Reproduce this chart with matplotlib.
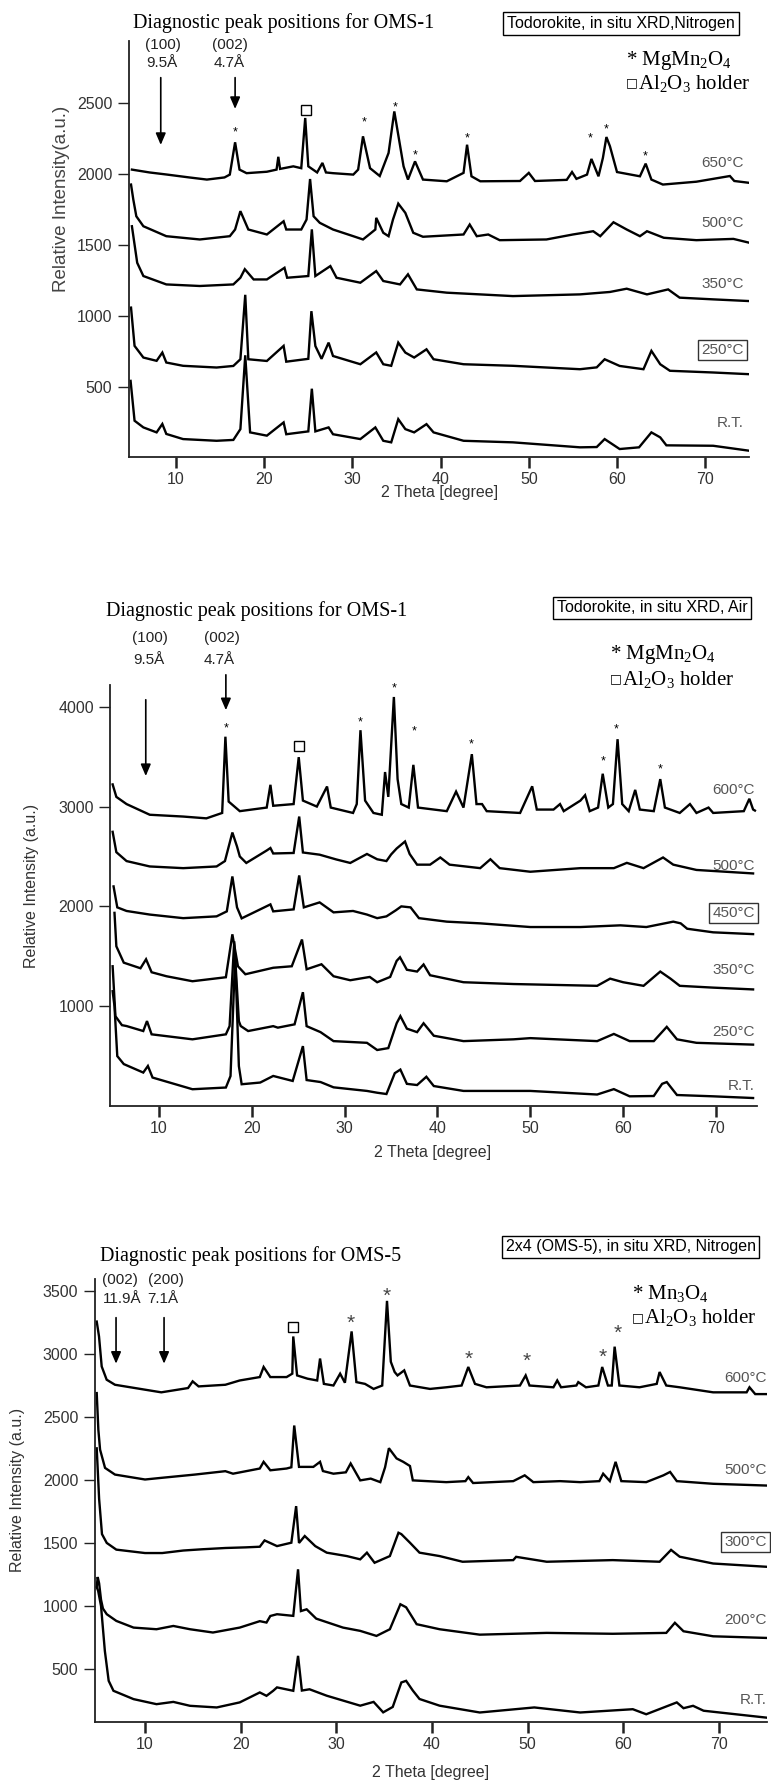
import numpy as np
import matplotlib
matplotlib.use("Agg")
import matplotlib.pyplot as plt

W, H = 771, 1782

# ---------------- OMS-1 (todorokite) in nitrogen : (2theta, intensity) ----------------
oms1_n2_650 = [(5.0, 2030), (7, 2010), (9, 1995), (11.5, 1975), (13.5, 1960), (15.5, 1975), (16.1, 1995),
               (16.7, 2222), (17.2, 2030), (18.0, 2005), (20.3, 2015), (21.4, 2030), (21.6, 2120), (21.8, 2035),
               (23.3, 2053), (24.2, 2040), (24.65, 2393), (25.0, 2053), (26.0, 2010), (26.6, 2077), (27.0, 2010),
               (27.8, 2005), (30.1, 1995), (30.65, 2030), (31.2, 2264), (32.0, 2040), (33.1, 1985), (34.1, 2147),
               (34.75, 2439), (35.8, 2053), (36.3, 1960), (37.1, 2088), (38.0, 1960), (40.7, 1948), (42.6, 2007),
               (43.0, 2205), (43.5, 1983), (44.5, 1948), (49.0, 1950), (50.0, 2007), (50.7, 1950), (54.3, 1958),
               (54.9, 2013), (55.4, 1965), (56.6, 1995), (57.1, 2105), (57.9, 1983), (58.4, 2112), (58.8, 2259),
               (59.2, 2194), (60.0, 2013), (62.6, 1983), (63.25, 2072), (63.9, 1960), (65.2, 1925), (69, 1945),
               (72.8, 1985), (73.3, 1950), (75.0, 1937)]
oms1_n2_500 = [(4.9, 1925), (5.16, 1819), (5.5, 1702), (6.3, 1632), (8.9, 1562), (12.7, 1539), (16.1, 1562),
               (16.7, 1609), (17.3, 1738), (18.2, 1609), (20.3, 1574), (22.2, 1667), (22.5, 1609), (24.2, 1609),
               (24.8, 1679), (25.2, 1964), (25.6, 1702), (26.3, 1656), (27.8, 1609), (30.1, 1562), (31.2, 1539),
               (32.6, 1609), (32.7, 1691), (33.5, 1586), (34.1, 1562), (34.6, 1679), (35.2, 1791), (36.0, 1726),
               (36.9, 1586), (38.0, 1558), (42.6, 1574), (43.3, 1644), (44.1, 1562), (45.4, 1574), (46.7, 1534),
               (52.0, 1539), (55.0, 1574), (57.3, 1597), (58.1, 1562), (59.6, 1660), (61.1, 1609), (62.6, 1562),
               (63.4, 1597), (65.3, 1551), (69.0, 1534), (73.2, 1543), (75.0, 1516)]
oms1_n2_350 = [(5.0, 1632), (5.6, 1375), (6.3, 1282), (8.9, 1223), (12.7, 1212), (16.5, 1223), (17.3, 1270),
               (17.8, 1330), (18.8, 1258), (20.3, 1258), (22.3, 1340), (22.6, 1270), (25.0, 1282), (25.4, 1610),
               (25.8, 1282), (27.5, 1352), (28.2, 1270), (30.9, 1235), (32.7, 1317), (33.5, 1247), (35.4, 1223),
               (36.3, 1294), (37.3, 1188), (40.7, 1165), (48.2, 1141), (55.8, 1153), (59.2, 1170), (61.1, 1193),
               (63.4, 1153), (65.8, 1188), (67.1, 1130), (70.9, 1118), (75.0, 1106)]
oms1_n2_250 = [(4.9, 1060), (5.3, 791), (6.3, 709), (7.8, 686), (8.45, 744), (8.9, 674), (10.8, 651),
               (14.6, 639), (16.5, 650), (17.3, 697), (17.85, 1150), (18.2, 697), (20.3, 685), (22.2, 791),
               (22.5, 680), (25.0, 700), (25.35, 1035), (25.8, 790), (26.5, 700), (27.3, 814), (27.8, 720),
               (30.9, 662), (32.7, 745), (33.5, 662), (34.4, 651), (35.2, 814), (36.0, 744), (37.0, 709),
               (38.4, 767), (39.2, 697), (42.6, 662), (48.2, 651), (55.8, 627), (57.7, 640), (58.6, 697),
               (60.3, 650), (63.0, 627), (63.9, 756), (64.9, 662), (66.0, 616), (70.9, 604), (75.0, 592)]
oms1_n2_rt = [(4.85, 545), (5.3, 265), (6.3, 218), (7.8, 183), (8.45, 242), (8.9, 172), (10.8, 136),
              (14.6, 124), (16.5, 130), (17.3, 206), (17.85, 725), (18.4, 183), (20.3, 160), (22.2, 253),
              (22.5, 170), (25.0, 190), (25.4, 490), (25.8, 190), (27.3, 218), (27.8, 170), (30.9, 136),
              (32.6, 218), (33.5, 124), (34.4, 113), (35.2, 276), (36.0, 206), (37.0, 183), (38.4, 241),
              (39.2, 183), (42.6, 124), (48.2, 113), (55.8, 78), (57.7, 80), (58.6, 136), (60.3, 66),
              (62.5, 78), (63.9, 183), (64.9, 148), (65.6, 92), (70.9, 89), (75.0, 54)]
oms1_n2_labels = ["650°C", "500°C", "350°C", "250°C", "R.T."]

# ---------------- OMS-1 (todorokite) in air ----------------
oms1_air_600 = [(5.0, 3222), (5.4, 3097), (6.5, 3025), (9.0, 2918), (12.6, 2900), (15.1, 2882), (16.8, 2936),
                (17.15, 3700), (17.5, 3050), (18.7, 2954), (21.6, 2990), (22.0, 3218), (22.3, 3008), (24.5, 3025),
                (25.05, 3495), (25.5, 3060), (27.0, 3000), (28.1, 3201), (28.5, 2990), (30.9, 2936), (31.3, 3025),
                (31.7, 3765), (32.2, 3060), (33.1, 2936), (34.0, 2918), (34.35, 3346), (34.7, 3097), (35.3, 4098),
                (35.7, 3275), (36.1, 3025), (36.9, 2990), (37.4, 3418), (37.9, 2990), (41.0, 2954), (42.0, 3150),
                (42.8, 2990), (43.7, 3525), (44.2, 3025), (44.8, 3025), (45.3, 2954), (48.9, 2936), (50.2, 3203),
                (50.7, 2970), (52.5, 2970), (53.2, 3025), (53.6, 2954), (55.4, 3060), (55.9, 3114), (56.4, 2954),
                (57.3, 2990), (57.8, 3329), (58.4, 2990), (58.9, 3025), (59.4, 3675), (59.9, 3025), (60.6, 2954),
                (61.3, 3167), (61.8, 2970), (63.3, 2954), (64.0, 3275), (64.5, 2990), (66.1, 2936), (67.2, 3025),
                (67.9, 2936), (69.2, 2990), (69.7, 2936), (73.0, 2954), (73.6, 3078), (74.0, 2971), (74.2, 2960)]
oms1_air_500 = [(5.0, 2747), (5.4, 2543), (6.5, 2454), (9.0, 2400), (12.6, 2383), (16.2, 2400), (17.1, 2454),
                (17.9, 2740), (18.4, 2600), (18.7, 2500), (19.4, 2435), (21.6, 2560), (22.0, 2585), (22.3, 2530),
                (24.5, 2535), (25.1, 2900), (25.5, 2540), (27.3, 2518), (29.1, 2470), (30.6, 2435), (32.4, 2525),
                (33.5, 2472), (34.5, 2454), (35.0, 2520), (35.6, 2580), (36.5, 2650), (37.0, 2525), (37.8, 2418),
                (39.2, 2418), (40.3, 2490), (41.3, 2418), (44.6, 2383), (45.7, 2472), (46.7, 2383), (50.0, 2347),
                (55.4, 2383), (59.0, 2383), (60.4, 2436), (62.2, 2383), (64.3, 2490), (65.4, 2418), (67.9, 2365),
                (74.0, 2330)]
oms1_air_450 = [(5.1, 2200), (5.5, 1990), (6.5, 1954), (9.0, 1918), (12.6, 1882), (16.2, 1900), (17.3, 1950),
                (17.9, 2300), (18.4, 1990), (18.9, 1880), (22.0, 2020), (22.3, 1950), (24.5, 1970), (25.1, 2310),
                (25.6, 1990), (27.3, 2040), (28.8, 1940), (30.9, 1954), (32.4, 1918), (33.5, 1882), (34.5, 1900),
                (35.5, 1960), (36.1, 2000), (37.1, 1990), (38.0, 1882), (41.0, 1847), (44.6, 1830), (50.0, 1793),
                (55.4, 1793), (59.7, 1810), (62.5, 1793), (65.4, 1847), (66.2, 1830), (66.9, 1776), (69.7, 1740),
                (74.0, 1722)]
oms1_air_350 = [(5.2, 1935), (5.4, 1600), (6.2, 1436), (8.0, 1380), (8.6, 1470), (9.2, 1340), (10.8, 1300),
                (13.6, 1250), (17.2, 1290), (17.9, 1720), (18.5, 1400), (19.3, 1320), (22.3, 1385), (24.3, 1400),
                (25.4, 1668), (25.9, 1370), (27.5, 1420), (28.8, 1300), (30.6, 1260), (32.7, 1293), (33.5, 1240),
                (34.9, 1293), (35.6, 1454), (35.96, 1490), (36.7, 1365), (37.8, 1347), (38.5, 1418), (39.2, 1310),
                (42.8, 1240), (48.2, 1222), (57.2, 1204), (58.6, 1276), (60.0, 1240), (62.2, 1204), (64.0, 1347),
                (65.1, 1276), (66.1, 1204), (69.7, 1186), (74.0, 1168)]
oms1_air_250 = [(5.0, 1400), (5.3, 900), (6.0, 810), (6.5, 801), (8.3, 751), (8.7, 851), (9.2, 718),
                (13.6, 668), (17.2, 718), (17.6, 800), (18.1, 1650), (18.6, 850), (18.8, 801), (19.6, 751),
                (22.3, 800), (22.8, 785), (24.6, 818), (25.5, 1140), (25.9, 800), (27.4, 740), (28.8, 650),
                (32.4, 633), (33.5, 561), (34.7, 580), (35.6, 829), (36.0, 900), (36.7, 775), (37.8, 740),
                (38.5, 829), (39.6, 704), (42.8, 650), (48.2, 668), (50.0, 680), (57.2, 650), (59.0, 722),
                (60.7, 650), (63.3, 650), (64.7, 793), (65.8, 668), (67.9, 633), (74.0, 615)]
oms1_air_rt = [(5.0, 1150), (5.2, 1000), (5.5, 500), (6.2, 420), (8.3, 335), (8.8, 401), (9.3, 285),
               (13.6, 168), (17.2, 185), (17.7, 300), (18.2, 1500), (18.6, 400), (18.9, 218), (20.9, 235),
               (22.3, 301), (24.4, 251), (25.5, 600), (25.9, 260), (27.4, 240), (28.8, 187), (32.4, 151),
               (33.5, 133), (34.5, 120), (35.4, 329), (36.0, 365), (36.7, 222), (37.8, 210), (38.8, 293),
               (39.6, 200), (42.8, 151), (50.0, 151), (57.2, 115), (59.0, 169), (60.7, 97), (63.3, 100),
               (64.2, 222), (64.7, 240), (65.8, 110), (69.7, 97), (74.0, 80)]
oms1_air_labels = ["600°C", "500°C", "450°C", "350°C", "250°C", "R.T."]

# ---------------- OMS-5 (2x4) in nitrogen ----------------
oms5_n2_600 = [(4.95, 3255), (5.19, 3137), (5.47, 2899), (5.99, 2794), (6.86, 2754), (10.0, 2715), (11.7, 2694),
               (14.5, 2728), (14.98, 2781), (15.6, 2741), (18.4, 2754), (19.9, 2788), (22.0, 2815), (22.4, 2895),
               (23.1, 2815), (24.8, 2815), (25.4, 2842), (25.5, 3137), (25.9, 2828), (27.0, 2802), (28.0, 2788),
               (28.3, 2962), (28.7, 2761), (29.7, 2748), (30.4, 2842), (30.9, 2770), (31.6, 3177), (32.1, 2775),
               (33.0, 2761), (33.9, 2721), (34.8, 2748), (35.3, 3419), (35.7, 2936), (36.1, 2855), (36.4, 2828),
               (37.1, 2868), (37.7, 2748), (39.8, 2721), (41.5, 2734), (43.1, 2748), (43.8, 2895), (44.5, 2761),
               (45.7, 2734), (49.2, 2748), (49.8, 2828), (50.2, 2748), (52.7, 2734), (53.1, 2788), (53.5, 2734),
               (55.1, 2748), (55.3, 2775), (56.1, 2734), (57.4, 2748), (57.8, 2895), (58.4, 2748), (58.8, 2748),
               (59.1, 3056), (59.6, 2748), (61.7, 2734), (63.5, 2761), (63.8, 2855), (64.5, 2748), (65.9, 2734),
               (69.4, 2694), (72.9, 2694), (73.2, 2734), (73.8, 2680), (75.0, 2680)]
oms5_n2_500 = [(4.95, 2688), (5.12, 2398), (5.3, 2240), (5.82, 2095), (6.86, 2042), (10.0, 2003), (11.7, 2016),
               (15.2, 2042), (18.4, 2069), (19.2, 2049), (22.0, 2090), (22.4, 2143), (23.1, 2076), (24.8, 2090),
               (25.3, 2100), (25.6, 2431), (26.1, 2103), (27.6, 2103), (28.3, 2143), (28.6, 2070), (29.7, 2049),
               (31.0, 2060), (31.5, 2130), (32.5, 1996), (33.6, 2010), (34.6, 1982), (35.1, 2100), (35.5, 2251),
               (36.3, 2170), (37.0, 2143), (37.7, 2110), (38.0, 1996), (41.5, 1982), (43.5, 1990), (43.8, 2022),
               (44.3, 1975), (48.5, 1990), (49.7, 2036), (50.6, 1982), (53.4, 1990), (55.5, 1982), (57.5, 1990),
               (57.9, 2049), (58.6, 1990), (59.2, 2143), (59.8, 1990), (62.4, 1982), (64.2, 2036), (64.9, 2063),
               (65.6, 1990), (69.4, 1969), (75.0, 1955)]
oms5_n2_300 = [(4.95, 2250), (5.2, 1850), (5.5, 1570), (6.0, 1500), (7.0, 1447), (10.0, 1420), (11.8, 1420),
               (14.0, 1440), (16.0, 1450), (18.4, 1460), (20.5, 1465), (22.0, 1470), (22.5, 1520), (23.8, 1475),
               (25.3, 1502), (25.8, 1792), (26.1, 1500), (26.7, 1555), (27.8, 1475), (29.0, 1423), (31.1, 1396),
               (32.5, 1370), (33.2, 1423), (34.0, 1343), (35.6, 1396), (36.5, 1581), (36.8, 1570), (37.7, 1502),
               (38.7, 1423), (40.8, 1396), (43.2, 1351), (48.5, 1364), (48.8, 1390), (52.0, 1351), (58.9, 1364),
               (63.8, 1351), (65.0, 1445), (65.9, 1391), (69.4, 1337), (75.0, 1311)]
oms5_n2_200 = [(4.95, 1150), (5.05, 1230), (5.2, 1180), (5.4, 1050), (5.6, 980), (6.0, 935), (7.0, 882),
               (8.8, 829), (11.2, 816), (12.96, 842), (14.7, 816), (17.1, 790), (19.9, 829), (22.0, 880),
               (22.7, 869), (23.1, 921), (23.8, 935), (25.5, 922), (26.0, 1291), (26.3, 960), (26.9, 974),
               (27.9, 900), (30.7, 829), (32.5, 803), (34.2, 763), (35.6, 816), (36.7, 1014), (37.3, 990),
               (38.4, 856), (40.8, 816), (45.0, 773), (52.0, 787), (58.9, 780), (64.5, 787), (65.4, 867),
               (66.3, 800), (69.4, 760), (75.0, 747)]
oms5_n2_rt = [(4.95, 1150), (5.1, 1120), (5.4, 1000), (5.8, 644), (6.2, 407), (6.7, 328), (8.8, 262),
              (11.2, 222), (12.96, 240), (14.7, 209), (17.5, 196), (19.9, 236), (22.0, 315), (22.7, 288),
              (23.4, 328), (23.8, 355), (25.5, 328), (26.0, 605), (26.4, 330), (27.2, 340), (29.0, 289),
              (32.5, 210), (33.9, 240), (34.9, 157), (35.9, 200), (36.8, 394), (37.3, 407), (38.0, 330),
              (38.7, 263), (40.8, 210), (45.0, 156), (50.7, 196), (55.5, 156), (61.0, 182), (62.4, 142),
              (65.6, 236), (66.3, 190), (67.3, 209), (68.4, 170), (75.0, 115)]
oms5_n2_labels = ["600°C", "500°C", "300°C", "200°C", "R.T."]

# peak markers (2theta, height)
stars_1 = [(16.7, 2323), (31.3, 2393), (34.8, 2498), (37.1, 2158), (43.0, 2280), (57.0, 2276), (58.8, 2339), (63.2, 2151)]
square_1 = (24.7, 2451)
stars_2 = [(17.2, 3828), (31.7, 3882), (35.3, 4222), (37.5, 3793), (43.6, 3668), (57.8, 3498), (59.3, 3818), (64.0, 3418)]
square_2 = (25.1, 3608)
stars_3 = [(31.5, 3271), (35.3, 3486), (43.8, 2989), (49.9, 2976), (57.8, 3003), (59.4, 3191)]
square_3 = (25.5, 3210)

plt.rcParams['font.family'] = ['Liberation Sans', 'DejaVu Sans']
plt.rcParams['mathtext.fontset'] = 'custom'
plt.rcParams['mathtext.rm'] = 'Liberation Serif'
plt.rcParams['mathtext.it'] = 'Liberation Serif:italic'

fig = plt.figure(figsize=(W / 100, H / 100), dpi=100)


def add_ax(left, top, right, bottom):
    return fig.add_axes([left / W, 1 - bottom / H, (right - left) / W, (bottom - top) / H])


def ftext(x, y, s, **kw):
    return fig.text(x / W, 1 - y / H, s, **kw)


def setup(ax, xlim, ylim, yticks):
    ax.set_xlim(xlim)
    ax.set_ylim(ylim)
    for s in ('top', 'right'):
        ax.spines[s].set_visible(False)
    for s in ('left', 'bottom'):
        ax.spines[s].set_linewidth(1.3)
        ax.spines[s].set_color('#222222')
    ax.set_xticks([10, 20, 30, 40, 50, 60, 70])
    ax.set_yticks(yticks)
    ax.tick_params(axis='x', direction='out', length=8, width=1.8, pad=3,
                   labelsize=11.5, labelcolor='#333333', color='#222222')
    ax.tick_params(axis='y', direction='out', length=8, width=1.0, pad=4,
                   labelsize=11.5, labelcolor='#333333', color='#222222')


def draw_traces(ax, traces):
    for t in traces:
        a = np.array(t)
        ax.plot(a[:, 0], a[:, 1], color='black', lw=1.7, solid_joinstyle='miter')


def temp_labels(right, ys, labels, boxed):
    for y, s in zip(ys, labels):
        kw = {}
        if s == boxed:
            kw['bbox'] = dict(boxstyle='square,pad=0.2', fc='white', ec='#333333', lw=1)
        ftext(right, y, s, ha='right', va='center', color='#555555', fontsize=11, **kw)


def peak_marks(ax, stars, square, size=9, color='black'):
    for x, y in stars:
        ax.annotate('*', xy=(x, y), xytext=(0, -3), textcoords='offset points', ha='center',
                    va='center', fontsize=size, color=color, annotation_clip=False)
    ax.plot([square[0]], [square[1]], marker='s', ms=7, mfc='white', mec='black', mew=1, clip_on=False)


def arrow(ax, x, y0, y1):
    ax.annotate('', xy=(x, y1), xytext=(x, y0), annotation_clip=False,
                arrowprops=dict(arrowstyle='-|>,head_length=0.7,head_width=0.3', color='black', lw=1.2))


def legend(x, y1, y2, phase):
    ftext(x, y1, '* ' + phase, family='Liberation Serif', fontsize=15, va='center', ha='left')
    ftext(x, y2, '□', family='DejaVu Sans', fontsize=9, va='center', ha='left')
    ftext(x + 12, y2, r'Al$_2$O$_3$ holder', family='Liberation Serif', fontsize=15, va='center', ha='left')


# ---------------- panel 1 ----------------
ax1 = add_ax(129, 41, 749.3, 457)
setup(ax1, (4.67, 75.0), (10, 2934), [500, 1000, 1500, 2000, 2500])
draw_traces(ax1, [oms1_n2_650, oms1_n2_500, oms1_n2_350, oms1_n2_250, oms1_n2_rt])
peak_marks(ax1, stars_1, square_1)
arrow(ax1, 8.27, 2696, 2184)
arrow(ax1, 16.7, 2696, 2437)
ftext(133, 22.7, 'Diagnostic peak positions for OMS-1', family='Liberation Serif', fontsize=14.5, va='center')
ftext(621, 23.7, 'Todorokite, in situ XRD,Nitrogen', ha='center', va='center', fontsize=11.5,
      bbox=dict(boxstyle='square,pad=0.25', fc='white', ec='black', lw=1))
legend(626, 60, 83, r'MgMn$_2$O$_4$')
ftext(163, 45, '(100)', ha='center', va='center', fontsize=11, color='#222222')
ftext(162, 63, '9.5Å', ha='center', va='center', fontsize=11, color='#222222')
ftext(230, 45, '(002)', ha='center', va='center', fontsize=11, color='#222222')
ftext(229, 63, '4.7Å', ha='center', va='center', fontsize=11, color='#222222')
temp_labels(744, [163.3, 222.7, 284.3, 350, 422.7], oms1_n2_labels, '250°C')
ftext(62, 199, 'Relative Intensity(a.u.)', rotation=90, ha='center', va='center', fontsize=13.5, color='#444444')
ftext(440, 493, '2 Theta [degree]', ha='center', va='center', fontsize=11.5, color='#333333')

# ---------------- panel 2 ----------------
ax2 = add_ax(110.5, 684.6, 756.7, 1105.7)
setup(ax2, (4.77, 74.39), (3, 4222), [1000, 2000, 3000, 4000])
draw_traces(ax2, [oms1_air_600, oms1_air_500, oms1_air_450, oms1_air_350, oms1_air_250, oms1_air_rt])
peak_marks(ax2, stars_2, square_2)
arrow(ax2, 8.57, 4098, 3278)
arrow(ax2, 17.2, 4348, 3938)
ftext(106, 611, 'Diagnostic peak positions for OMS-1', family='Liberation Serif', fontsize=14.5, va='center')
ftext(652, 608, 'Todorokite, in situ XRD, Air', ha='center', va='center', fontsize=11.5,
      bbox=dict(boxstyle='square,pad=0.25', fc='white', ec='black', lw=1))
legend(610, 654, 679, r'MgMn$_2$O$_4$')
ftext(150, 638, '(100)', ha='center', va='center', fontsize=11, color='#222222')
ftext(149, 660, '9.5Å', ha='center', va='center', fontsize=11, color='#222222')
ftext(221.7, 638, '(002)', ha='center', va='center', fontsize=11, color='#222222')
ftext(219, 660, '4.7Å', ha='center', va='center', fontsize=11, color='#222222')
temp_labels(755, [790, 865.7, 913, 970, 1031.8, 1086.4], oms1_air_labels, '450°C')
ftext(32, 886, 'Relative Intensity (a.u.)', rotation=90, ha='center', va='center', fontsize=11.5, color='#333333')
ftext(433, 1152, '2 Theta [degree]', ha='center', va='center', fontsize=11.5, color='#333333')

# ---------------- panel 3 ----------------
ax3 = add_ax(95, 1278.8, 766.7, 1721.7)
setup(ax3, (4.77, 75.0), (83, 3594), [500, 1000, 1500, 2000, 2500, 3000, 3500])
draw_traces(ax3, [oms5_n2_600, oms5_n2_500, oms5_n2_300, oms5_n2_200, oms5_n2_rt])
peak_marks(ax3, stars_3, square_3, size=15, color='#444444')
arrow(ax3, 6.97, 3308, 2899)
arrow(ax3, 11.99, 3308, 2899)
ftext(100, 1256, 'Diagnostic peak positions for OMS-5', family='Liberation Serif', fontsize=14.5, va='center')
ftext(630.5, 1247, '2x4 (OMS-5), in situ XRD, Nitrogen', ha='center', va='center', fontsize=11.5,
      bbox=dict(boxstyle='square,pad=0.25', fc='white', ec='black', lw=1))
legend(632, 1294, 1318, r'Mn$_3$O$_4$')
ftext(120, 1280, '(002)', ha='center', va='center', fontsize=11, color='#222222')
ftext(122, 1299, '11.9Å', ha='center', va='center', fontsize=11, color='#222222')
ftext(165.5, 1280, '(200)', ha='center', va='center', fontsize=11, color='#222222')
ftext(163, 1299, '7.1Å', ha='center', va='center', fontsize=11, color='#222222')
temp_labels(766.7, [1378, 1469.8, 1542.4, 1620.5, 1699.5], oms5_n2_labels, '300°C')
ftext(18, 1490, 'Relative Intensity (a.u.)', rotation=90, ha='center', va='center', fontsize=11.5, color='#333333')
ftext(431, 1772, '2 Theta [degree]', ha='center', va='center', fontsize=11.5, color='#333333')

fig.savefig('out.png', dpi=100)
